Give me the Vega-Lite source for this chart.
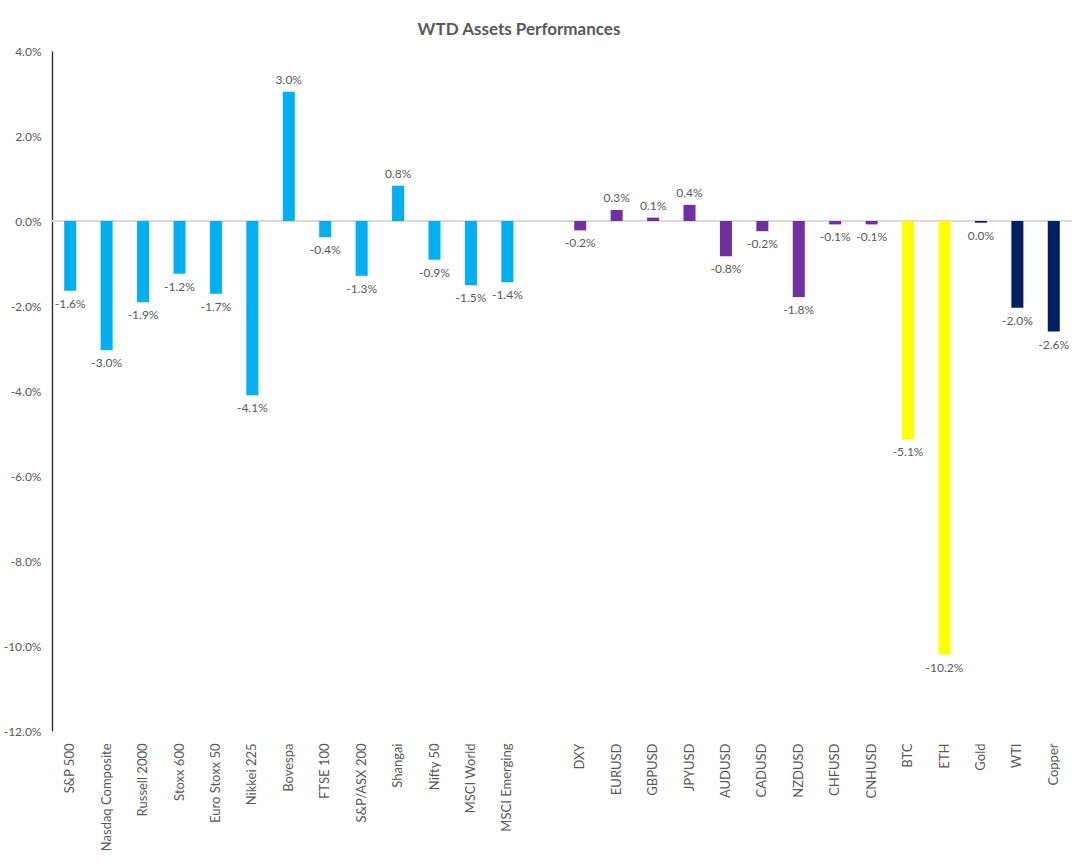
{
  "$schema": "https://vega.github.io/schema/vega-lite/v6.json",
  "width": 1020,
  "height": 680,
  "autosize": "none",
  "padding": {"left": 52, "top": 51, "right": 12, "bottom": 131},
  "background": "white",
  "title": {
    "text": "WTD Assets Performances",
    "font": "Lato",
    "fontSize": 17,
    "fontWeight": "bold",
    "color": "#595959",
    "anchor": "middle",
    "dx": -43,
    "offset": 6
  },
  "data": {
    "values": [
      {"asset": "S&P 500", "group": "Equity", "value": -0.0164},
      {"asset": "Nasdaq Composite", "group": "Equity", "value": -0.0304},
      {"asset": "Russell 2000", "group": "Equity", "value": -0.0191},
      {"asset": "Stoxx 600", "group": "Equity", "value": -0.0124},
      {"asset": "Euro Stoxx 50", "group": "Equity", "value": -0.0171},
      {"asset": "Nikkei 225", "group": "Equity", "value": -0.0410},
      {"asset": "Bovespa", "group": "Equity", "value": 0.0304},
      {"asset": "FTSE 100", "group": "Equity", "value": -0.0038},
      {"asset": "S&P/ASX 200", "group": "Equity", "value": -0.0129},
      {"asset": "Shangai", "group": "Equity", "value": 0.0083},
      {"asset": "Nifty 50", "group": "Equity", "value": -0.0091},
      {"asset": "MSCI World", "group": "Equity", "value": -0.0151},
      {"asset": "MSCI Emerging", "group": "Equity", "value": -0.0144},
      {"asset": "DXY", "group": "FX", "value": -0.0022},
      {"asset": "EURUSD", "group": "FX", "value": 0.0026},
      {"asset": "GBPUSD", "group": "FX", "value": 0.0008},
      {"asset": "JPYUSD", "group": "FX", "value": 0.0038},
      {"asset": "AUDUSD", "group": "FX", "value": -0.0083},
      {"asset": "CADUSD", "group": "FX", "value": -0.0024},
      {"asset": "NZDUSD", "group": "FX", "value": -0.0179},
      {"asset": "CHFUSD", "group": "FX", "value": -0.0008},
      {"asset": "CNHUSD", "group": "FX", "value": -0.0008},
      {"asset": "BTC", "group": "Crypto", "value": -0.0514},
      {"asset": "ETH", "group": "Crypto", "value": -0.1020},
      {"asset": "Gold", "group": "Commodity", "value": -0.0004},
      {"asset": "WTI", "group": "Commodity", "value": -0.0204},
      {"asset": "Copper", "group": "Commodity", "value": -0.0260}
    ]
  },
  "encoding": {
    "x": {
      "field": "asset",
      "type": "nominal",
      "sort": null,
      "scale": {
        "domain": ["S&P 500", "Nasdaq Composite", "Russell 2000", "Stoxx 600", "Euro Stoxx 50", "Nikkei 225", "Bovespa", "FTSE 100", "S&P/ASX 200", "Shangai", "Nifty 50", "MSCI World", "MSCI Emerging", " ", "DXY", "EURUSD", "GBPUSD", "JPYUSD", "AUDUSD", "CADUSD", "NZDUSD", "CHFUSD", "CNHUSD", "BTC", "ETH", "Gold", "WTI", "Copper"],
        "paddingInner": 0.67,
        "paddingOuter": 0.335
      },
      "axis": {
        "title": null,
        "orient": "bottom",
        "domain": false,
        "ticks": false,
        "labelAngle": -90,
        "labelPadding": 12,
        "labelFont": "Lato",
        "labelFontSize": 13,
        "labelColor": "#595959",
        "labelLimit": 200
      }
    }
  },
  "layer": [
    {
      "mark": {"type": "rule", "color": "#D9D9D9", "strokeWidth": 1.2},
      "encoding": {"x": null, "y": {"datum": 0, "type": "quantitative"}}
    },
    {
      "mark": {"type": "bar"},
      "encoding": {
        "y": {
          "field": "value",
          "type": "quantitative",
          "scale": {"domain": [-0.12, 0.04], "nice": false, "zero": true},
          "axis": {
            "title": null,
            "values": [-0.12, -0.10, -0.08, -0.06, -0.04, -0.02, 0, 0.02, 0.04],
            "format": ".1%",
            "grid": false,
            "ticks": false,
            "domain": true,
            "domainColor": "#262626",
            "domainWidth": 1.3,
            "labelPadding": 11,
            "labelFont": "Lato",
            "labelFontSize": 12,
            "labelColor": "#595959"
          }
        },
        "color": {
          "field": "group",
          "type": "nominal",
          "scale": {"domain": ["Equity", "FX", "Crypto", "Commodity"], "range": ["#00B0F0", "#7030A0", "#FFFF00", "#002060"]},
          "legend": null
        }
      }
    },
    {
      "transform": [{"filter": "datum.value >= 0"}],
      "mark": {"type": "text", "baseline": "bottom", "dy": -5, "font": "Lato", "fontSize": 12, "color": "#595959"},
      "encoding": {
        "y": {"field": "value", "type": "quantitative"},
        "text": {"field": "value", "type": "quantitative", "format": ".1%"}
      }
    },
    {
      "transform": [{"filter": "datum.value < 0"}],
      "mark": {"type": "text", "baseline": "top", "dy": 8, "font": "Lato", "fontSize": 12, "color": "#595959"},
      "encoding": {
        "y": {"field": "value", "type": "quantitative"},
        "text": {"field": "value", "type": "quantitative", "format": ".1%"}
      }
    }
  ],
  "config": {
    "view": {"stroke": null},
    "locale": {"number": {"decimal": ".", "thousands": ",", "grouping": [3], "currency": ["$", ""], "minus": "-"}}
  }
}
